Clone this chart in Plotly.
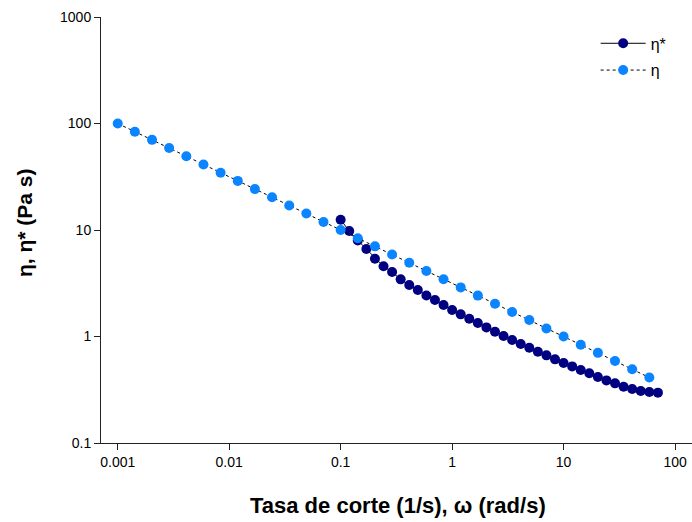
import plotly.graph_objects as go

# eta* (oscillatory, omega in rad/s)
omega = [0.1, 0.1194, 0.1425, 0.1701, 0.2031, 0.2424, 0.2894, 0.3455, 0.4125, 0.4924,
         0.5878, 0.7017, 0.8377, 1.0, 1.194, 1.425, 1.701, 2.031, 2.424, 2.894,
         3.455, 4.125, 4.924, 5.878, 7.017, 8.377, 10.0, 11.94, 14.25, 17.01,
         20.31, 24.24, 28.94, 34.55, 41.25, 49.24, 58.78, 70.17]
eta_star = [12.5, 9.78, 7.99, 6.63, 5.38, 4.56, 4.03, 3.44, 3.04, 2.73,
            2.43, 2.20, 1.975, 1.772, 1.614, 1.47, 1.338, 1.218, 1.11, 1.01,
            0.926, 0.85, 0.785, 0.72, 0.665, 0.61, 0.563, 0.524, 0.484, 0.451,
            0.416, 0.387, 0.363, 0.338, 0.321, 0.308, 0.301, 0.297]

# eta (steady shear, shear rate in 1/s)
shear_rate = [0.001, 0.001425, 0.002031, 0.002894, 0.004125, 0.005878, 0.008377, 0.01194,
              0.01701, 0.02424, 0.03455, 0.04924, 0.07017, 0.1, 0.1425, 0.2031,
              0.2894, 0.4125, 0.5878, 0.8377, 1.194, 1.701, 2.424, 3.455,
              4.924, 7.017, 10.0, 14.25, 20.31, 28.94, 41.25, 58.78]
eta = [100, 83.8, 70.2, 58.8, 49.2, 41.2, 34.5, 28.9,
       24.2, 20.3, 17.0, 14.3, 11.9, 10.0, 8.38, 7.02,
       5.88, 4.92, 4.12, 3.45, 2.89, 2.42, 2.03, 1.70,
       1.43, 1.19, 1.0, 0.838, 0.702, 0.588, 0.492, 0.412]

x_ticks = [0.001, 0.01, 0.1, 1, 10, 100]
x_tick_labels = ["0.001", "0.01", "0.1", "1", "10", "100"]
y_ticks = [0.1, 1, 10, 100, 1000]
y_tick_labels = ["0.1", "1", "10", "100", "1000"]

FONT = "Liberation Sans, Arial, sans-serif"

fig = go.Figure()
fig.add_trace(go.Scatter(
    x=omega, y=eta_star, name="η*", mode="lines+markers",
    line=dict(color="black", width=1, dash="solid"),
    marker=dict(color="#000080", size=10, line=dict(width=0)),
    legendgroup="a",
))
fig.add_trace(go.Scatter(
    x=shear_rate, y=eta, name="η", mode="lines+markers",
    line=dict(color="black", width=1, dash="dot"),
    marker=dict(color="#0A84FF", size=10, line=dict(width=0)),
    legendgroup="b",
))

axis_common = dict(
    type="log", showgrid=False, zeroline=False, showline=True,
    linecolor="#222", linewidth=1, ticks="outside", ticklen=6,
    tickcolor="#222", tickwidth=1, mirror=False, automargin=False,
    tickfont=dict(family=FONT, size=14, color="black"),
)

fig.update_layout(
    width=692, height=522,
    margin=dict(l=101, r=0, t=17, b=79),
    paper_bgcolor="white", plot_bgcolor="white",
    font=dict(family=FONT, color="black"),
    xaxis=dict(
        **axis_common, range=[-3.15, 2.152],
        tickvals=x_ticks, ticktext=x_tick_labels,
    ),
    yaxis=dict(
        **axis_common, range=[-1, 3],
        tickvals=y_ticks, ticktext=y_tick_labels,
    ),
    legend=dict(
        x=0.837, y=0.978, xanchor="left", yanchor="top",
        bgcolor="rgba(0,0,0,0)", borderwidth=0,
        font=dict(family=FONT, size=16),
        traceorder="grouped", tracegroupgap=3, itemwidth=45,
    ),
    showlegend=True,
    annotations=[
        dict(text="<b>Tasa de corte (1/s), ω (rad/s)</b>", xref="paper", yref="paper",
             x=(398 - 101) / 591, y=-(505 - 443) / 426, xanchor="center", yanchor="middle",
             showarrow=False, font=dict(family=FONT, size=22, color="black")),
        dict(text="<b>η, η* (Pa s)</b>", xref="paper", yref="paper",
             x=-(101 - 24) / 591, y=1 - (223 - 17) / 426, xanchor="center", yanchor="middle",
             textangle=-90, showarrow=False, font=dict(family=FONT, size=21, color="black")),
    ],
)

fig.write_html("out.html", config={"displayModeBar": False},
               post_script="document.body.style.margin='0';")
